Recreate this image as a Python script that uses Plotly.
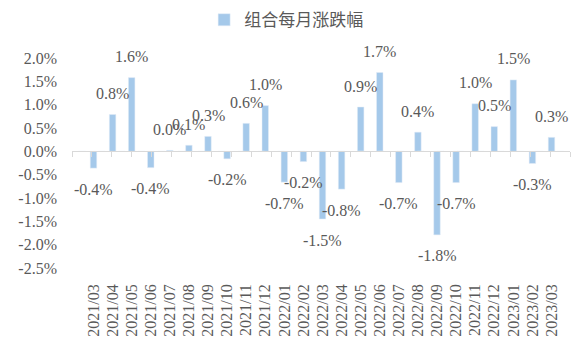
import plotly.graph_objects as go

months = ["2021/03", "2021/04", "2021/05", "2021/06", "2021/07", "2021/08", "2021/09",
          "2021/10", "2021/11", "2021/12", "2022/01", "2022/02", "2022/03", "2022/04",
          "2022/05", "2022/06", "2022/07", "2022/08", "2022/09", "2022/10", "2022/11",
          "2022/12", "2023/01", "2023/02", "2023/03"]
returns = [-0.0036, 0.0079, 0.0158, -0.0035, 0.0002, 0.0013, 0.0032,
           -0.0016, 0.0060, 0.0098, -0.0066, -0.0022, -0.0145, -0.0081,
           0.0095, 0.0169, -0.0067, 0.0041, -0.0179, -0.0067, 0.0102,
           0.0053, 0.0153, -0.0026, 0.0030]
series_name = "组合每月涨跌幅"
ytick_vals = [0.02, 0.015, 0.01, 0.005, 0.0, -0.005, -0.01, -0.015, -0.02, -0.025]

BAR = "#A5C9EA"
TXT = "#595959"
SERIF = "Liberation Serif"
YMIN, YMAX = -0.025, 0.02

fig = go.Figure()
fig.add_trace(go.Bar(x=months, y=returns, name=series_name, marker_color=BAR,
                     xaxis="x2", showlegend=True))
# invisible trace to carry the zero-line axis with boundary ticks
fig.add_trace(go.Bar(x=months, y=[0] * len(months), xaxis="x", showlegend=False,
                     marker_color="rgba(0,0,0,0)", hoverinfo="skip"))

for m, v in zip(months, returns):
    fig.add_annotation(x=m, y=v, xref="x2", yref="y", text=f"{v*100:.1f}%",
                       showarrow=False, yshift=21 if v > 0 else -21,
                       font=dict(family=SERIF, size=16, color=TXT))

fig.update_layout(
    width=585, height=351,
    margin=dict(l=72, r=15, t=58, b=83, autoexpand=False),
    paper_bgcolor="white", plot_bgcolor="white",
    bargap=0.66,
    font=dict(family=SERIF, size=16, color=TXT),
    legend=dict(orientation="h", x=0.43, xanchor="center", y=1.18, yanchor="middle",
                font=dict(family="Noto Sans CJK SC", size=17, color=TXT),
                itemwidth=30),
    xaxis=dict(anchor="free", overlaying="x2", position=(0 - YMIN) / (YMAX - YMIN),
               showline=True, linecolor="#D9D9D9", linewidth=1,
               ticks="outside", tickson="boundaries", ticklen=5, tickcolor="#D9D9D9",
               showticklabels=False, showgrid=False, zeroline=False, automargin=False),
    xaxis2=dict(anchor="y", side="bottom", showline=False, ticks="", showgrid=False,
                tickmode="array", tickvals=months, ticktext=months,
                tickangle=-90, ticklabelstandoff=12, automargin=False,
                tickfont=dict(family=SERIF, size=16, color=TXT)),
    yaxis=dict(range=[YMIN, YMAX], tickvals=ytick_vals,
               ticktext=[f"{t*100:.1f}%" for t in ytick_vals],
               showgrid=False, zeroline=False, showline=False, ticks="",
               ticklabelstandoff=14, automargin=False,
               tickfont=dict(family=SERIF, size=16, color=TXT)),
)

fig.write_html("out.html")
